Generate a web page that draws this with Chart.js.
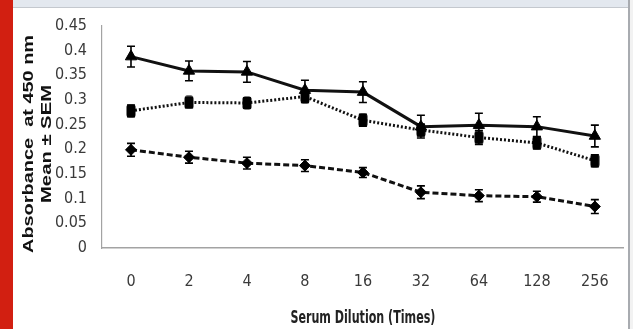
<!DOCTYPE html>
<html>
<head>
<meta charset="utf-8">
<script src="https://cdn.jsdelivr.net/npm/chart.js@4/dist/chart.umd.min.js"></script>
<style>
  html, body { margin: 0; padding: 0; background: #fff; }
  #wrap { position: relative; width: 633px; height: 329px; overflow: hidden; background: #fff; }
  #redbar { position: absolute; left: 0; top: 0; width: 13px; height: 329px; background: #d21f11; }
  #topband { position: absolute; left: 13px; top: 0; width: 615px; height: 7px; background: #e3e8ef; border-bottom: 1px solid #c4c8ce; }
  #rightline { position: absolute; left: 628px; top: 0; width: 2px; height: 329px; background: #a8abb0; }
  #rightpad { position: absolute; left: 630px; top: 0; width: 3px; height: 329px; background: #f2f2f2; }
  canvas { position: absolute; left: 0; top: 0; }
</style>
</head>
<body>
<div id="wrap">
  <div id="redbar"></div>
  <div id="topband"></div>
  <div id="rightline"></div>
  <div id="rightpad"></div>
  <canvas id="c" width="633" height="329"></canvas>
</div>
<script>
// ---- data ----
const dilutions = ['0', '2', '4', '8', '16', '32', '64', '128', '256'];
const triangleMean = [0.388, 0.359, 0.357, 0.320, 0.316, 0.246, 0.249, 0.246, 0.227];
const triangleSem  = [0.021, 0.020, 0.021, 0.020, 0.021, 0.023, 0.024, 0.020, 0.022];
const squareMean   = [0.278, 0.295, 0.294, 0.307, 0.259, 0.239, 0.224, 0.213, 0.177];
const squareSem    = [0.012, 0.010, 0.010, 0.012, 0.012, 0.012, 0.014, 0.012, 0.012];
const diamondMean  = [0.199, 0.184, 0.172, 0.167, 0.153, 0.113, 0.106, 0.104, 0.084];
const diamondSem   = [0.013, 0.012, 0.012, 0.012, 0.010, 0.013, 0.012, 0.011, 0.014];
const yTickValues  = [0, 0.05, 0.1, 0.15, 0.2, 0.25, 0.3, 0.35, 0.4, 0.45];
const yTitleLines  = ['Absorbance  at 450 nm', 'Mean \u00B1 SEM'];
const xTitle       = 'Serum Dilution (Times)';

// square marker image (rounded, slightly tall)
function makeSquareMarker() {
  const c = document.createElement('canvas');
  c.width = 10; c.height = 14;
  const g = c.getContext('2d');
  g.fillStyle = '#000';
  g.beginPath();
  if (g.roundRect) g.roundRect(0.5, 0.5, 9, 13, 2.5); else g.rect(0.5, 0.5, 9, 13);
  g.fill();
  return c;
}
const squareImg = makeSquareMarker();

const semByDataset = [triangleSem, squareSem, diamondSem];

const errorBars = {
  id: 'errorBars',
  afterDatasetsDraw(chart) {
    const ctx = chart.ctx;
    const y = chart.scales.y;
    ctx.save();
    ctx.strokeStyle = '#000';
    ctx.lineWidth = 1.6;
    chart.data.datasets.forEach((ds, di) => {
      const meta = chart.getDatasetMeta(di);
      const sem = semByDataset[di];
      meta.data.forEach((pt, i) => {
        const v = ds.data[i];
        const top = y.getPixelForValue(v + sem[i]);
        const bot = y.getPixelForValue(v - sem[i]);
        const x = pt.x;
        ctx.beginPath();
        ctx.moveTo(x, top); ctx.lineTo(x, bot);
        ctx.moveTo(x - 4, top); ctx.lineTo(x + 4, top);
        ctx.moveTo(x - 4, bot); ctx.lineTo(x + 4, bot);
        ctx.stroke();
      });
    });
    ctx.restore();
  }
};

function drawStretched(ctx, text, font, targetWidth, vScale) {
  ctx.font = font;
  const w = ctx.measureText(text).width;
  const sx = targetWidth / w;
  ctx.save();
  ctx.scale(sx, vScale);
  ctx.fillText(text, 0, 0);
  ctx.restore();
}

const titles = {
  id: 'titles',
  afterDraw(chart) {
    const ctx = chart.ctx;
    const area = chart.chartArea;
    ctx.save();
    ctx.fillStyle = '#111';
    ctx.textAlign = 'center';
    ctx.textBaseline = 'middle';
    // y title (rotated, two lines)
    ctx.save();
    ctx.translate(29, 144);
    ctx.rotate(-Math.PI / 2);
    drawStretched(ctx, yTitleLines[0], 'bold 14px "Liberation Sans", Arial, sans-serif', 218, 1);
    ctx.restore();
    ctx.save();
    ctx.translate(47, 144);
    ctx.rotate(-Math.PI / 2);
    drawStretched(ctx, yTitleLines[1], 'bold 14px "Liberation Sans", Arial, sans-serif', 118, 1);
    ctx.restore();
    // x title
    ctx.save();
    ctx.fillStyle = '#222';
    ctx.translate((area.left + area.right) / 2, 318);
    drawStretched(ctx, xTitle, 'bold 14px "Liberation Sans Narrow", "DejaVu Sans Condensed", sans-serif', 145, 1.25);
    ctx.restore();
    ctx.restore();
  }
};

new Chart(document.getElementById('c'), {
  type: 'line',
  data: {
    labels: dilutions,
    datasets: [
      {
        data: triangleMean,
        borderColor: '#111',
        backgroundColor: '#000',
        borderWidth: 3,
        pointStyle: 'triangle',
        pointRadius: 6.5,
        pointBorderWidth: 1,
        pointBorderColor: '#000',
        pointBackgroundColor: '#000',
        tension: 0
      },
      {
        data: squareMean,
        borderColor: '#111',
        backgroundColor: '#000',
        borderWidth: 3,
        borderDash: [2, 2],
        pointStyle: squareImg,
        tension: 0
      },
      {
        data: diamondMean,
        borderColor: '#111',
        backgroundColor: '#000',
        borderWidth: 3,
        borderDash: [6, 3],
        pointStyle: 'rectRot',
        pointRadius: 5.5,
        pointBorderWidth: 1,
        pointBorderColor: '#000',
        pointBackgroundColor: '#000',
        tension: 0
      }
    ]
  },
  options: {
    responsive: false,
    animation: false,
    devicePixelRatio: 1,
    layout: { padding: { left: 0, right: 7, top: 26, bottom: 0 } },
    plugins: { legend: { display: false }, tooltip: { enabled: false } },
    scales: {
      x: {
        type: 'category',
        offset: true,
        afterFit(scale) { scale.height = 81; },
        grid: { display: true, drawOnChartArea: false, drawTicks: false },
        border: { display: true, color: '#a3a3a3', width: 1.5 },
        ticks: {
          color: '#3a3a3a',
          padding: 24,
          maxRotation: 0,
          autoSkip: false,
          font: { family: '"Liberation Sans Narrow", "DejaVu Sans Condensed", sans-serif', size: 16 }
        }
      },
      y: {
        min: 0,
        max: 0.45,
        afterFit(scale) { scale.width = 102; },
        afterBuildTicks(scale) { scale.ticks = yTickValues.map(v => ({ value: v })); },
        grid: { display: true, drawOnChartArea: false, drawTicks: false },
        border: { display: true, color: '#a3a3a3', width: 1.2 },
        ticks: {
          color: '#3a3a3a',
          padding: 15,
          callback: (v) => String(Math.round(v * 100) / 100),
          font: { family: '"Liberation Sans Narrow", "DejaVu Sans Condensed", sans-serif', size: 16 }
        }
      }
    }
  },
  plugins: [errorBars, titles]
});
</script>
</body>
</html>
